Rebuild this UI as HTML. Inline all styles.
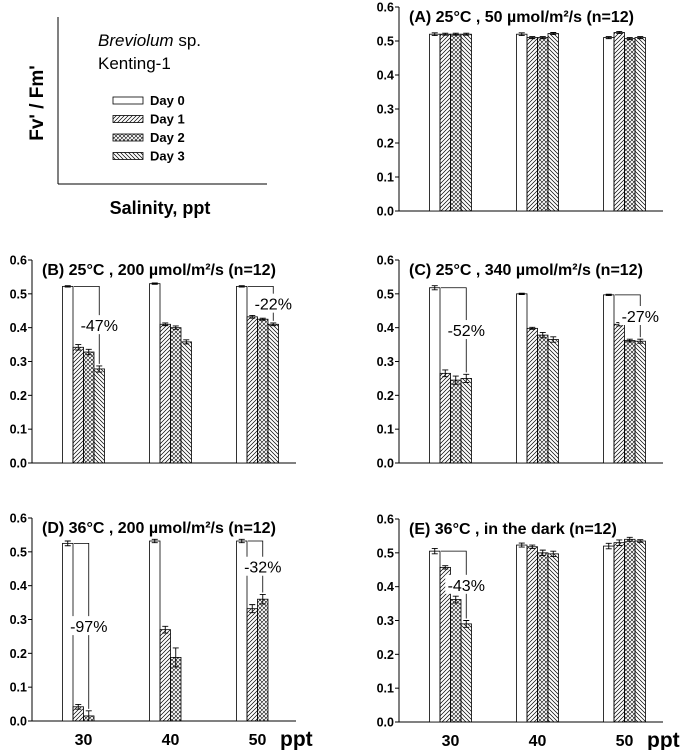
<!DOCTYPE html>
<html><head><meta charset="utf-8"><style>
body{margin:0;background:#fff;}
svg{display:block;font-family:"Liberation Sans",Arial,sans-serif;}
</style></head><body>
<svg id="chart" width="685" height="750" viewBox="0 0 685 750">
<defs>
<pattern id="p1" patternUnits="userSpaceOnUse" width="4" height="4"><path d="M-1,1 l2,-2 M0,4 l4,-4 M3,5 l2,-2" stroke="#000" stroke-width="0.7"/></pattern>
<pattern id="p2" patternUnits="userSpaceOnUse" width="4" height="4"><path d="M-1,1 l2,-2 M0,4 l4,-4 M3,5 l2,-2 M-1,3 l2,2 M0,0 l4,4 M3,-1 l2,2" stroke="#000" stroke-width="0.6"/></pattern>
<pattern id="p3" patternUnits="userSpaceOnUse" width="4" height="4"><path d="M-1,3 l2,2 M0,0 l4,4 M3,-1 l2,2" stroke="#000" stroke-width="0.7"/></pattern>
</defs>
<g>
<line x1="58" y1="17" x2="58" y2="184" stroke="#000"/>
<line x1="58" y1="184" x2="267" y2="184" stroke="#000"/>
<text transform="translate(43,103) rotate(-90)" text-anchor="middle" font-size="19" font-weight="bold">Fv' / Fm'</text>
<text x="160" y="214" text-anchor="middle" font-size="18" font-weight="bold">Salinity, ppt</text>
<text x="98" y="46" font-size="17"><tspan font-style="italic">Breviolum</tspan> sp.</text>
<text x="98" y="69" font-size="17">Kenting-1</text>
<g id="legend"></g>
</g>
<g id="panels"></g>
</svg>
<script>
const days = ["Day 0","Day 1","Day 2","Day 3"];
const categories = ["30","40","50"];
const yTicks = [0,0.1,0.2,0.3,0.4,0.5,0.6];
const valsA = [[0.52,0.52,0.52,0.52],[0.52,0.51,0.51,0.522],[0.51,0.525,0.507,0.51]];
const valsB = [[0.522,0.342,0.328,0.278],[0.53,0.41,0.40,0.358],[0.522,0.432,0.425,0.41]];
const valsC = [[0.518,0.265,0.245,0.25],[0.50,0.398,0.378,0.365],[0.497,0.41,0.362,0.36]];
const valsD = [[0.525,0.042,0.015],[0.532,0.27,0.188],[0.532,0.332,0.36]];
const valsE = [[0.505,0.457,0.362,0.29],[0.523,0.518,0.50,0.497],[0.52,0.53,0.54,0.535]];
const errA = [[0.004,0.003,0.003,0.003],[0.004,0.003,0.003,0.003],[0.003,0.003,0.003,0.003]];
const errB = [[0.002,0.008,0.008,0.009],[0.002,0.004,0.005,0.006],[0.002,0.004,0.003,0.004]];
const errC = [[0.006,0.01,0.012,0.012],[0.002,0.003,0.008,0.008],[0.002,0.005,0.004,0.006]];
const errD = [[0.007,0.007,0.015],[0.005,0.01,0.028],[0.005,0.012,0.014]];
const errE = [[0.008,0.005,0.01,0.01],[0.006,0.005,0.008,0.008],[0.008,0.008,0.006,0.004]];
const titles = ["(A) 25\u00B0C , 50 \u00B5mol/m\u00B2/s (n=12)","(B) 25\u00B0C , 200 \u00B5mol/m\u00B2/s (n=12)","(C) 25\u00B0C , 340 \u00B5mol/m\u00B2/s (n=12)","(D) 36\u00B0C , 200 \u00B5mol/m\u00B2/s (n=12)","(E) 36\u00B0C , in the dark (n=12)"];
const bracketLabels = [[],[["-47%",0,3],["-22%",2,3]],[["-52%",0,3],["-27%",2,3]],[["-97%",0,2],["-32%",2,2]],[["-43%",0,3]]];

const NS="http://www.w3.org/2000/svg";
function mk(tag,attrs,parent){const e=document.createElementNS(NS,tag);for(const k in attrs)e.setAttribute(k,attrs[k]);parent.appendChild(e);return e;}
const fills=["#fff","url(#p1)","url(#p2)","url(#p3)"];

const lg=document.getElementById('legend');
days.forEach((d,i)=>{
  const y=97+i*18.5;
  const r=mk('rect',{x:113,y:y,width:30,height:7,fill:fills[i],stroke:'#000','stroke-width':0.8},lg);
  
  
  const t=mk('text',{x:150,y:y+8,'font-size':13,'font-weight':'bold'},lg);
  t.textContent=d;
  
  
});

const layouts=[{x0:399,top:7,bot:211,xl:false},{x0:32,top:260,bot:463,xl:false},{x0:399,top:260,bot:463,xl:false},{x0:32,top:518,bot:721,xl:true},{x0:399,top:519,bot:722,xl:true}];
const allVals=[valsA,valsB,valsC,valsD,valsE];
const allErr=[errA,errB,errC,errD,errE];
const pnames=["a","b","c","d","e"];
const root=document.getElementById('panels');
const BW=10.5, GS=87, G0=30.5, AXL=264;

layouts.forEach((L,pi)=>{
  const g=mk('g',{},root);
  
  
  const yS=v=>L.bot-(v/0.6)*(L.bot-L.top);
  const xS=(c,d)=>L.x0+G0+c*GS+d*BW;
  mk('line',{x1:L.x0,y1:L.top,x2:L.x0,y2:L.bot,stroke:'#000'},g);
  mk('line',{x1:L.x0,y1:L.bot,x2:L.x0+AXL,y2:L.bot,stroke:'#000'},g);
  yTicks.forEach(v=>{
    mk('line',{x1:L.x0-4,y1:yS(v),x2:L.x0,y2:yS(v),stroke:'#000'},g);
    const t=mk('text',{x:L.x0-5,y:yS(v)+4.5,'text-anchor':'end','font-size':12.5,'font-weight':'bold'},g);
    t.textContent=v.toFixed(1);
    
    
  });
  const tt=mk('text',{x:L.x0+10,y:L.top+15,'font-size':16,'font-weight':'bold'},g);
  tt.textContent=titles[pi];
  
  
  const V=allVals[pi],E=allErr[pi];
  V.forEach((grp,c)=>{
    grp.forEach((v,d)=>{
      const x=xS(c,d),y=yS(v);
      const r=mk('rect',{x:x,y:y,width:BW,height:L.bot-y,fill:fills[d],stroke:'#000','stroke-width':0.8},g);
      
      
      const e=E[c][d],cx=x+BW/2;
      mk('path',{d:`M${cx},${yS(v+e)}V${yS(v-e)}M${cx-3},${yS(v+e)}h6M${cx-3},${yS(v-e)}h6`,stroke:'#000','stroke-width':0.9,fill:'none'},g);
    });
    if(L.xl){
      const t=mk('text',{x:xS(c,2),y:L.bot+24,'text-anchor':'middle','font-size':16,'font-weight':'bold'},g);
      t.textContent=categories[c];
      
      
    }
  });
  if(L.xl){
    const t=mk('text',{x:L.x0+248,y:L.bot+25,'font-size':21,'font-weight':'bold'},g);
    t.textContent='ppt';
    
    
  }
  bracketLabels[pi].forEach(([lab,c,d])=>{
    const y0=yS(V[c][0]);
    const xe=xS(c,d)+BW/2;
    const y1=yS(V[c][d]+E[c][d])-2;
    mk('path',{d:`M${xS(c,1)+1},${y0}H${xe}V${y1}`,stroke:'#000','stroke-width':0.8,fill:'none'},g);
    const ym=(y0+y1)/2;
    mk('rect',{x:xe-21,y:ym-10,width:42,height:19,fill:'#fff'},g);
    const t=mk('text',{x:xe,y:ym+6,'text-anchor':'middle','font-size':16},g);
    t.textContent=lab;
    
    
  });
});
</script>
</body></html>
